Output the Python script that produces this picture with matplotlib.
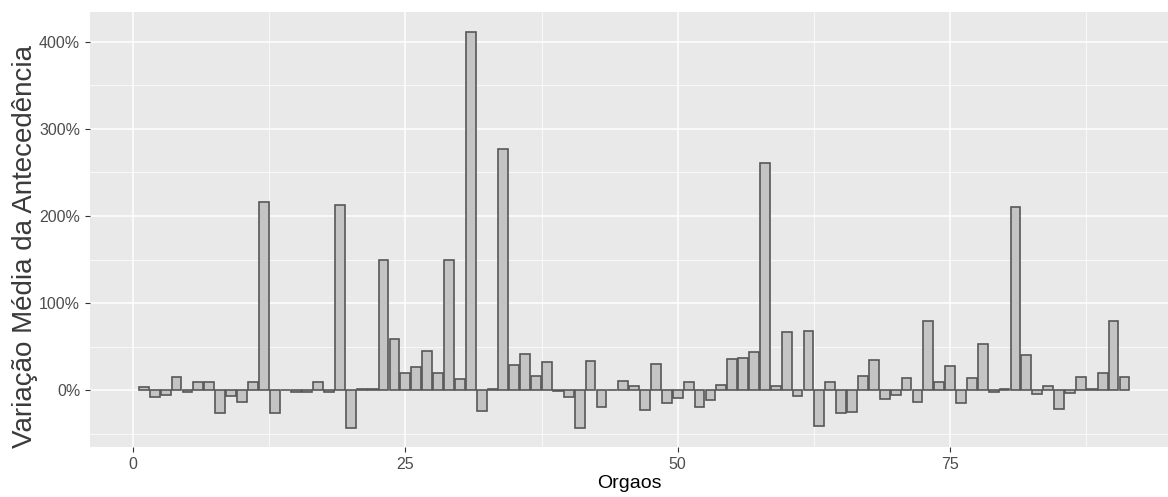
import numpy as np
import matplotlib.pyplot as plt
from matplotlib.ticker import MultipleLocator, FuncFormatter

# -------------------------------------------------------------------------
# Data
# -------------------------------------------------------------------------

orgaos = list(range(1, 92))
variacao = [
    4, -8, -5, 15, -2, 9.5, 9.5, -26, -6, -13,
    9.5, 216, -26, 0.5, -2, -2, 9, -1.5, 213, -43,
    2, 2, 149, 59, 20, 27, 45, 20, 149, 12.5,
    411, -24, 1, 277, 29, 42, 17, 32.5, -1, -8,
    -43, 34, -19, 0, 10.7, 5, -22, 30.5, -15, -9,
    9.5, -19, -11.5, 5.7, 36, 37.5, 44, 261, 5, 67,
    -6, 68, -41, 9, -26, -25, 17, 35, -10, -5,
    14.5, -13, 80, 9, 28, -14.5, 14.5, 53, -1.5, 1,
    210, 41, -4.6, 5.4, -21, -3, 15, 1, 20, 79,
    15.7,
]

# -------------------------------------------------------------------------
# Plot
# -------------------------------------------------------------------------

plt.rcParams['font.family'] = ['Liberation Sans', 'DejaVu Sans']

fig = plt.figure(figsize=(11.68, 4.97), dpi=100)
ax = fig.add_axes([0.077, 0.1006, 0.923, 0.8754])

ax.set_facecolor('#E9E9E9')
ax.bar(orgaos, variacao, width=0.9, color='#C4C4C4',
       edgecolor='#575757', linewidth=1.2, zorder=3)

ax.set_xlim(-3.95, 95)
ax.set_ylim(-65, 434)

ax.xaxis.set_major_locator(MultipleLocator(25))
ax.xaxis.set_minor_locator(MultipleLocator(12.5))
ax.yaxis.set_major_locator(MultipleLocator(100))
ax.yaxis.set_minor_locator(MultipleLocator(50))
ax.yaxis.set_major_formatter(FuncFormatter(lambda v, p: f"{v:.0f}%"))

ax.grid(which='major', color='white', linewidth=1.1, zorder=0)
ax.grid(which='minor', color='white', linewidth=0.5, zorder=0)
ax.set_axisbelow(True)

for s in ax.spines.values():
    s.set_visible(False)

ax.tick_params(which='major', length=3.5, color='#333333',
               labelcolor='#4D4D4D', labelsize=11.5)
ax.tick_params(which='minor', length=0)

ax.set_xlabel("Orgaos", fontsize=14, color='black', labelpad=2)
ax.set_ylabel("Variação Média da Antecedência", fontsize=20, color='#3A3A3A')
ax.yaxis.set_label_coords(-0.048, 0.46)

plt.savefig("out.png", dpi=100)
plt.close()
